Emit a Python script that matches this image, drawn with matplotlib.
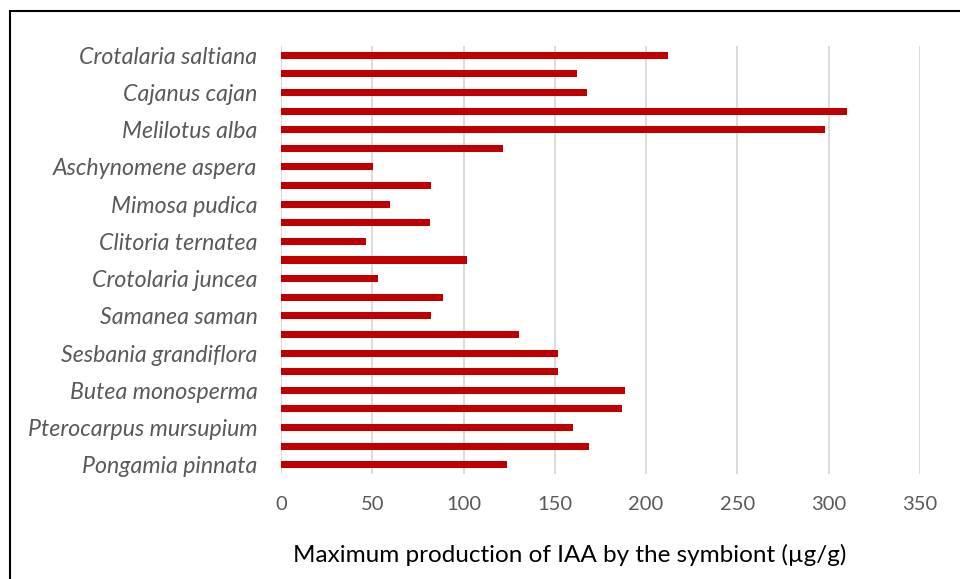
import matplotlib.pyplot as plt
from matplotlib.patches import Rectangle

# 23 bars, top to bottom; only every other one has a visible label
labels = ['Crotalaria saltiana', '', 'Cajanus cajan', '', 'Melilotus alba', '',
          'Aschynomene aspera', '', 'Mimosa pudica', '', 'Clitoria ternatea', '',
          'Crotolaria juncea', '', 'Samanea saman', '', 'Sesbania grandiflora', '',
          'Butea monosperma', '', 'Pterocarpus mursupium', '', 'Pongamia pinnata']
iaa = [212, 162, 167.5, 310, 298, 121.6, 50.5, 82.4, 59.5, 81.7, 46.7, 101.7,
       53, 89, 82.4, 130.5, 151.7, 151.7, 188.5, 186.9, 159.7, 168.9, 123.6]
xticks = [0, 50, 100, 150, 200, 250, 300, 350]

plt.rcParams['font.family'] = ['Lato', 'DejaVu Sans']
fig = plt.figure(figsize=(9.6, 5.79), dpi=100)
ax = fig.add_axes([0.2927, 0.1813, 0.6656, 0.7394])

pos = list(range(len(iaa)))
ax.barh(pos, iaa, height=0.38, color='#C00000', zorder=3)
ax.set_ylim(len(iaa) - 0.5, -0.5)
ax.set_yticks(pos)
ax.set_yticklabels(labels, fontsize=16.7, style='italic', color='#595959')
ax.set_xlim(0, 350)
ax.set_xticks(xticks)
ax.set_xticklabels([str(t) for t in xticks], fontsize=14.5, color='#595959')
ax.tick_params(axis='y', length=0, pad=17)
ax.tick_params(axis='x', length=0, pad=16)
ax.grid(axis='x', color='#D9D9D9', linewidth=1.3, zorder=0)
for s in ax.spines.values():
    s.set_visible(False)
ax.set_xlabel('Maximum production of IAA by the symbiont (µg/g)', fontsize=17.5,
              color='black')
ax.xaxis.set_label_coords(0.452, -0.163)

# outer chart border (extends beyond right and bottom edges)
fig.patches.append(Rectangle((10 / 960, -0.05), 1.0, 1 - 11 / 579 + 0.05,
                             transform=fig.transFigure, fill=False,
                             edgecolor='black', linewidth=1.5))

fig.savefig('out.png', dpi=100)
